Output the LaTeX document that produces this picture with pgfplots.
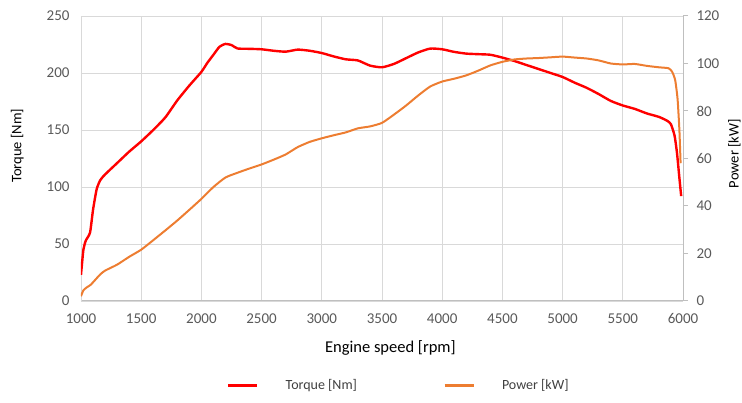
\documentclass[border=0pt]{standalone}
\usepackage{fontspec}
\setmainfont{Carlito}
\usepackage{pgfplots}
\pgfplotsset{compat=1.18}
\definecolor{torquered}{HTML}{FF0000}
\definecolor{powerorange}{HTML}{ED7D31}
\definecolor{gridgray}{HTML}{D9D9D9}
\definecolor{axisgray}{HTML}{BFBFBF}
\definecolor{ticktext}{HTML}{595959}

\pgfplotsset{
  dyno/.style={
    scale only axis, width=602pt, height=285pt,
    at={(0,0)}, anchor=south west,
    xmin=1000, xmax=6000,
    /pgf/number format/assume math mode=true,
    /pgf/number format/set thousands separator={},
    tick label style={font=\fontsize{15}{18}\selectfont, text=ticktext},
    ylabel style={font=\fontsize{14.5}{17}\selectfont},
    xlabel style={font=\fontsize{16.5}{20}\selectfont},
  }
}

\begin{document}
\begin{tikzpicture}
\path[use as bounding box] (-81pt,-102pt) rectangle (661pt,301pt);
% torque on the left axis, with the grid
\begin{axis}[dyno,
  ymin=0, ymax=250, ytick={0,50,...,250}, xtick={1000,1500,...,6000},
  axis x line*=bottom, axis y line*=left,
  x axis line style={draw=axisgray, line width=1pt, -},
  y axis line style={draw=gridgray, line width=0.9pt, -},
  major tick length=0pt,
  xticklabel style={yshift=-9pt},
  yticklabel style={xshift=-8pt},
  grid=major, major grid style={draw=gridgray, line width=0.9pt},
  xlabel={Engine speed [rpm]}, ylabel={Torque [Nm]},
  xlabel style={at={(axis description cs:0.514,0)}, anchor=center, yshift=-47pt},
  ylabel style={at={(axis description cs:-0.106,0.545)}, anchor=center},
]
\addplot[torquered, line width=2.4pt, smooth, tension=0.35] table {
rpm T
1000 23
1020 45
1040 53
1075 60
1100 80
1130 98
1160 106
1200 111
1300 121
1400 131
1500 140
1600 150
1700 161
1800 176
1900 189
2000 201
2050 209
2100 216
2150 223
2200 225.5
2250 224.5
2300 221.5
2400 221.2
2500 220.8
2600 219.5
2700 218.7
2800 220.5
2900 219.5
3000 217.5
3100 214.5
3200 212
3300 211
3400 206.5
3500 205
3600 208
3700 213
3800 218
3900 221.4
4000 220.8
4100 218.5
4200 217
4300 216.5
4400 216
4500 213.5
4600 210.5
4700 207
4800 203.5
4900 200
5000 196.5
5100 191.5
5200 187
5300 181.5
5400 175.5
5500 171.5
5600 168.5
5700 164.5
5800 161.5
5870 158
5900 155
5930 145
5950 130
5970 108
5985 92
};
\end{axis}
% power on the right axis
\begin{axis}[dyno,
  ymin=0, ymax=120, ytick={0,20,...,120},
  axis x line=none, axis y line*=right,
  y axis line style={draw=axisgray, line width=1pt, -},
  ytick style={draw=axisgray, line width=1pt},
  major tick length=5pt, tick align=outside,
  yticklabel style={xshift=5pt},
  ylabel={Power [kW]},
  ylabel style={at={(axis description cs:1.0855,0.517)}, anchor=center},
  legend style={at={(0.526,-0.295)}, anchor=center, draw=none, fill=none,
    legend columns=2, font=\fontsize{14}{17}\selectfont, text=black!75,
    nodes={inner sep=0pt},
    /tikz/every odd column/.append style={column sep=27pt},
    /tikz/every even column/.append style={column sep=86pt}},
  legend image code/.code={\draw[#1, line width=3pt] (0pt,0pt) -- (29pt,0pt);},
]
\addlegendimage{torquered}
\addlegendentry{Torque [Nm]}
\addplot[powerorange, line width=2pt, smooth, tension=0.35] table {
rpm P
1000 2
1020 4.5
1050 5.8
1080 6.8
1120 9
1160 11.2
1200 12.8
1300 15.3
1400 18.6
1500 21.6
1600 25.6
1700 29.7
1800 33.9
1900 38.4
2000 43
2100 48
2200 52
2300 54
2400 55.8
2500 57.5
2600 59.5
2700 61.7
2800 64.8
2900 67
3000 68.5
3100 69.8
3200 71
3300 72.7
3400 73.5
3500 75
3600 78.5
3700 82.3
3800 86.5
3900 90.3
4000 92.4
4100 93.6
4200 95
4300 97
4400 99.2
4500 100.7
4600 101.7
4700 102.1
4800 102.3
4900 102.6
5000 102.9
5100 102.5
5200 102.1
5300 101.3
5400 100
5500 99.6
5600 99.8
5700 99
5800 98.4
5880 98
5910 96.5
5935 93
5955 85
5970 72
5980 58
};
\addlegendentry{Power [kW]}
\end{axis}
\end{tikzpicture}
\end{document}
